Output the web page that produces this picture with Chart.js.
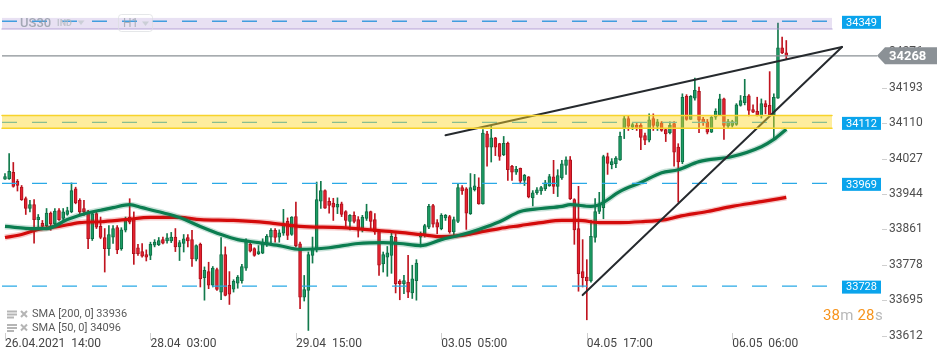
<!DOCTYPE html>
<html>
<head>
<meta charset="utf-8">
<script src="https://cdn.jsdelivr.net/npm/chart.js@4.4.1/dist/chart.umd.min.js"></script>
<style>
  html, body { margin: 0; padding: 0; background: #fff; }
</style>
</head>
<body>
<canvas id="chart" width="950" height="361"></canvas>
<script>
// hourly candles, US30 H1
const opens = [33979,33980,33995,33974,33960,33933,33910,33919,33884,33875,33870,33899,33874,33905,33887,33896,33902,33956,33929,33910,
  33902,33839,33898,33868,33842,33816,33843,33865,33816,33859,33890,33887,33818,33809,33802,33800,33824,33825,33837,33834,
  33834,33843,33820,33828,33842,33837,33791,33826,33748,33762,33730,33767,33714,33802,33730,33721,33735,33741,33770,33826,
  33816,33804,33805,33829,33843,33859,33843,33852,33880,33849,33891,33827,33702,33718,33800,33813,33927,33952,33927,33923,
  33913,33921,33903,33880,33894,33884,33860,33887,33903,33884,33857,33780,33796,33800,33843,33739,33734,33737,33712,33741,
  33843,33847,33866,33917,33877,33863,33888,33891,33855,33880,33959,33956,33898,33954,33960,33921,34085,34054,34076,34062,
  34036,34063,34009,33995,34004,33976,33984,33935,33947,33951,33956,33963,33984,33962,33982,34011,34024,33931,33863,33762,
  33749,33740,33842,33903,33912,34032,34013,34015,34024,34097,34121,34101,34105,34105,34081,34070,34121,34103,34111,34095,
  34088,34109,34054,34019,34173,34119,34169,34185,34120,34113,34089,34124,34130,34167,34103,34105,34107,34152,34158,34174,
  34142,34138,34127,34156,34152,34130,34169,34287,34275];
const highs = [33992,34039,34018,33978,33964,33937,33929,33931,33896,33882,33910,33902,33910,33910,33910,33913,33970,33960,33933,33929,
  33906,33902,33902,33890,33863,33870,33870,33870,33865,33890,33933,33902,33826,33828,33813,33831,33837,33842,33843,33851,
  33854,33863,33835,33849,33849,33859,33825,33829,33773,33784,33774,33770,33842,33820,33762,33743,33753,33779,33839,33831,
  33818,33823,33839,33849,33863,33863,33860,33908,33888,33891,33925,33831,33753,33808,33843,33972,33974,33954,33935,33934,
  33935,33925,33905,33896,33902,33891,33894,33920,33904,33898,33860,33808,33821,33855,33851,33743,33753,33800,33777,33790,
  33855,33873,33920,33920,33884,33898,33896,33894,33890,33968,33964,33959,33992,33990,33982,34095,34091,34105,34077,34063,
  34079,34066,34011,34009,34005,33990,33985,33952,33959,33962,33976,33990,34023,34001,34023,34031,34032,33933,33962,33837,
  33790,33882,33933,33948,34035,34040,34027,34032,34089,34128,34128,34110,34110,34109,34087,34132,34132,34119,34114,34097,
  34113,34114,34062,34179,34177,34175,34216,34195,34124,34119,34126,34144,34178,34169,34119,34117,34156,34175,34213,34177,
  34153,34171,34167,34163,34231,34179,34345,34312,34304];
const lows = [33978,33978,33960,33951,33929,33896,33902,33829,33866,33863,33865,33859,33870,33882,33882,33894,33900,33921,33896,33894,
  33816,33835,33863,33839,33761,33800,33828,33804,33812,33855,33874,33779,33800,33796,33787,33790,33820,33823,33827,33829,
  33830,33809,33788,33808,33820,33774,33787,33726,33695,33722,33726,33718,33696,33705,33685,33714,33723,33735,33765,33808,
  33798,33802,33804,33821,33826,33831,33831,33847,33837,33847,33820,33675,33693,33624,33782,33808,33910,33910,33899,33882,
  33898,33891,33868,33860,33876,33843,33855,33882,33863,33849,33753,33761,33751,33758,33712,33696,33710,33701,33699,33695,
  33820,33843,33863,33866,33851,33860,33882,33852,33847,33877,33943,33861,33896,33951,33920,33920,34009,34019,34034,34023,
  34034,33976,33976,33990,33968,33964,33935,33916,33943,33943,33952,33962,33945,33938,33978,33990,33931,33826,33716,33726,
  33649,33737,33831,33898,33886,33990,34003,34006,34023,34074,34093,34095,34093,34048,34060,34066,34093,34093,34091,34067,
  34085,34009,33925,34015,34117,34119,34164,34088,34105,34085,34088,34119,34128,34072,34098,34101,34105,34150,34153,34127,
  34135,34127,34122,34132,34127,34074,34168,34273,34261];
const closes = [33985,33997,33962,33964,33931,33910,33919,33884,33890,33868,33899,33874,33904,33884,33902,33905,33952,33923,33902,33902,
  33839,33898,33866,33842,33816,33849,33863,33813,33860,33886,33878,33804,33804,33798,33796,33826,33831,33835,33829,33841,
  33843,33820,33830,33839,33834,33792,33823,33745,33765,33730,33770,33720,33802,33706,33709,33739,33749,33774,33835,33810,
  33800,33809,33831,33845,33859,33842,33853,33876,33847,33890,33823,33702,33720,33802,33816,33931,33952,33911,33917,33913,
  33920,33896,33882,33894,33880,33859,33890,33903,33880,33855,33777,33802,33806,33845,33734,33734,33741,33714,33745,33782,
  33851,33870,33915,33873,33866,33894,33894,33855,33884,33959,33951,33899,33959,33963,33921,34087,34054,34076,34054,34032,
  34063,34001,33995,34002,33974,33988,33937,33947,33954,33959,33970,33985,33962,33987,34015,34024,33933,33860,33757,33748,
  33740,33845,33903,33920,34032,34016,34020,34028,34079,34121,34103,34107,34100,34077,34070,34118,34105,34113,34093,34085,
  34105,34042,34019,34171,34119,34173,34187,34117,34111,34089,34124,34138,34167,34105,34114,34114,34153,34163,34173,34140,
  34136,34130,34156,34148,34130,34171,34287,34275,34268];

// moving averages (candle index, value)
const sma50Idx = [0,7,10,15,20,23,26,30,33,38,42,47,52,56,61,66,71,78,85,91,95,100,105,110,114,119,124,129,134,136,141,143,148,153,158,162,167,175,182,185,188];
const sma50Val = [33868,33863,33863,33884,33900,33906,33912,33919,33912,33900,33889,33868,33849,33837,33830,33823,33814,33818,33828,33830,33828,33823,33837,33849,33861,33879,33903,33910,33915,33919,33915,33919,33950,33971,33994,34001,34020,34032,34055,34072,34096];
const sma200Idx = [0,4,8,13,18,23,29,35,42,47,55,63,71,81,90,95,100,105,110,114,119,124,129,134,138,143,148,153,159,162,169,175,182,188];
const sma200Val = [33842,33849,33861,33868,33877,33879,33884,33889,33889,33884,33882,33877,33868,33865,33858,33854,33849,33844,33847,33854,33863,33870,33877,33882,33882,33877,33877,33879,33884,33891,33903,33915,33926,33936];

const tickIdx = [0, 35, 70, 105, 140, 175];
const tickText = ['26.04.2021  14:00', '28.04  03:00', '29.04  15:00', '03.05  05:00', '04.05  17:00', '06.05  06:00'];
const yTicks = [33612, 33695, 33778, 33861, 33944, 34027, 34110, 34193, 34276];

const levels = [34349, 34112, 33969, 33728];
const lastPrice = 34268;
const purpleBand = [34331, 34357];
const yellowBand = [34098, 34128];
const trendUpper = [[106, 34082], [201.4, 34289]];
const trendLower = [[139, 33707], [201.4, 34289]];
const smaLegend = ['SMA [200, 0] 33936', 'SMA [50, 0] 34096'];

const idx = opens.map((_, i) => i);
const up = idx.map(i => closes[i] >= opens[i]);
const pts = (xs, ys) => xs.map((v, k) => ({ x: v, y: ys[k] }));

function drawTag(ctx, x, y, w, h, fill, text, font) {
    ctx.fillStyle = fill;
    ctx.fillRect(x, y - h / 2, w, h);
    ctx.fillStyle = '#fff';
    ctx.font = font;
    ctx.textAlign = 'center';
    ctx.textBaseline = 'middle';
    ctx.fillText(text, x + w / 2, y + 0.5);
}

const overlay = {
    id: 'overlay',
    afterDatasetsDraw(chart) {
        const { ctx, chartArea: a, scales: { x, y } } = chart;
        ctx.save();

        // dashed levels
        ctx.lineWidth = 1.4;
        ctx.strokeStyle = '#2aa9e6';
        ctx.setLineDash([15, 15]);
        levels.forEach(v => {
            const py = y.getPixelForValue(v);
            ctx.beginPath();
            ctx.moveTo(a.left, py);
            ctx.lineTo(a.right - 2, py);
            ctx.stroke();
        });
        ctx.setLineDash([]);

        // last price line
        const pp = y.getPixelForValue(lastPrice);
        ctx.strokeStyle = '#8a9095';
        ctx.lineWidth = 1.3;
        ctx.beginPath();
        ctx.moveTo(a.left, pp);
        ctx.lineTo(877, pp);
        ctx.stroke();

        // wedge trendlines
        ctx.strokeStyle = '#262a2e';
        ctx.lineWidth = 2;
        ctx.lineCap = 'round';
        [trendUpper, trendLower].forEach(t => {
            ctx.beginPath();
            t.forEach(([i, v], k) => {
                const px = x.getPixelForValue(i), py = y.getPixelForValue(v);
                if (k) ctx.lineTo(px, py); else ctx.moveTo(px, py);
            });
            ctx.stroke();
        });

        // zones drawn on top
        const band = (b, fill, edge, top) => {
            const t = y.getPixelForValue(b[1]), bt = y.getPixelForValue(b[0]);
            ctx.fillStyle = fill;
            ctx.fillRect(a.left, t, a.right - a.left, bt - t);
            ctx.strokeStyle = edge;
            ctx.lineWidth = 1.5;
            ctx.beginPath();
            if (top) { ctx.moveTo(a.left, t); ctx.lineTo(a.right, t); }
            ctx.moveTo(a.left, bt);
            ctx.lineTo(a.right, bt);
            ctx.stroke();
        };
        band(purpleBand, 'rgba(150,120,200,0.22)', 'rgba(170,150,210,0.55)', false);
        band(yellowBand, 'rgba(252,214,40,0.45)', '#f7d32b', true);
        ctx.restore();
    },
    afterDraw(chart) {
        const { ctx, chartArea: a, scales: { x, y } } = chart;
        ctx.save();

        // axis tick marks
        ctx.strokeStyle = '#cfcfcf';
        ctx.lineWidth = 1;
        yTicks.forEach(v => {
            const py = Math.round(y.getPixelForValue(v)) + 0.5;
            ctx.beginPath(); ctx.moveTo(882, py); ctx.lineTo(887, py); ctx.stroke();
        });
        tickIdx.forEach(i => {
            const px = Math.round(x.getPixelForValue(i)) + 0.5;
            ctx.beginPath(); ctx.moveTo(px, 333); ctx.lineTo(px, 340); ctx.stroke();
        });

        // level tags
        levels.forEach(v => {
            drawTag(ctx, 842, y.getPixelForValue(v) + 1, 39, 13, '#0aa4ec', String(v), '11px Roboto');
        });

        // last price tag
        const pp = y.getPixelForValue(lastPrice);
        ctx.fillStyle = '#8b9196';
        ctx.beginPath();
        ctx.moveTo(877, pp);
        ctx.lineTo(885, pp - 8.5);
        ctx.lineTo(937, pp - 8.5);
        ctx.lineTo(937, pp + 8.5);
        ctx.lineTo(885, pp + 8.5);
        ctx.closePath();
        ctx.fill();
        ctx.fillStyle = '#fff';
        ctx.font = 'bold 13px Roboto';
        ctx.textAlign = 'left';
        ctx.textBaseline = 'middle';
        ctx.fillText(String(lastPrice), 889, pp + 1);

        // symbol header
        ctx.globalAlpha = 0.75;
        ctx.fillStyle = '#8c96a0';
        ctx.font = '500 13px Roboto';
        ctx.textBaseline = 'middle';
        ctx.fillText('US30', 20, 23.5);
        ctx.fillStyle = '#b3b9bf';
        ctx.font = 'bold 9px Roboto';
        ctx.fillText('IND', 57, 24);
        const tri = (cx, cy) => {
            ctx.beginPath(); ctx.moveTo(cx - 3.5, cy - 2); ctx.lineTo(cx + 3.5, cy - 2); ctx.lineTo(cx, cy + 2.5); ctx.closePath(); ctx.fill();
        };
        ctx.fillStyle = '#c2c8ce';
        tri(81, 22.5);
        ctx.strokeStyle = '#dcdfe2';
        ctx.beginPath();
        ctx.roundRect(118.5, 14.5, 34, 17, 3);
        ctx.stroke();
        ctx.fillStyle = '#9aa2aa';
        ctx.font = '12px Roboto';
        ctx.fillText('H1', 123, 23.5);
        ctx.fillStyle = '#c2c8ce';
        tri(145.5, 23.5);
        ctx.globalAlpha = 1;

        // indicator legend
        smaLegend.forEach((t, k) => {
            const ly = 314.5 + k * 13.5;
            ctx.fillStyle = '#b5b5b5';
            ctx.fillRect(7, ly - 4, 10, 2);
            ctx.fillRect(7, ly - 1, 10, 2);
            ctx.fillRect(7, ly + 2, 7, 2);
            ctx.strokeStyle = '#b5b5b5';
            ctx.lineWidth = 2;
            ctx.beginPath();
            ctx.moveTo(21, ly - 3.5); ctx.lineTo(27, ly + 2.5);
            ctx.moveTo(27, ly - 3.5); ctx.lineTo(21, ly + 2.5);
            ctx.stroke();
            ctx.fillStyle = '#5a5a5a';
            ctx.font = '11px Roboto';
            ctx.fillText(t, 32, ly);
        });

        // candle timer
        ctx.font = '15px Roboto';
        let tx = 823;
        [['38', '#f7941d'], ['m', '#b8b8b8'], ['28', '#f7941d'], ['s', '#b8b8b8']].forEach(([s, c], k) => {
            ctx.fillStyle = c;
            ctx.fillText(s, tx, 316.5);
            tx += ctx.measureText(s).width + (k === 1 ? 4 : 0.5);
        });
        ctx.restore();
    }
};

new Chart(document.getElementById('chart'), {
    type: 'bar',
    data: {
        datasets: [
            { type: 'line', data: pts(sma50Idx, sma50Val), borderColor: '#0b7d50', borderWidth: 3.2, pointRadius: 0, cubicInterpolationMode: 'monotone', order: 0 },
            { type: 'line', data: pts(sma50Idx, sma50Val), borderColor: 'rgba(11,125,80,0.22)', borderWidth: 6, pointRadius: 0, cubicInterpolationMode: 'monotone', order: 1 },
            { type: 'line', data: pts(sma200Idx, sma200Val), borderColor: '#d40b0b', borderWidth: 3.2, pointRadius: 0, cubicInterpolationMode: 'monotone', order: 2 },
            { type: 'line', data: pts(sma200Idx, sma200Val), borderColor: 'rgba(212,11,11,0.22)', borderWidth: 6, pointRadius: 0, cubicInterpolationMode: 'monotone', order: 3 },
            {
                data: idx.map(i => ({ x: i, y: [opens[i], closes[i]] })),
                backgroundColor: idx.map(i => up[i] ? '#1c9c64' : '#e5222f'),
                borderColor: idx.map(i => up[i] ? '#0e6d44' : '#ad111d'),
                borderWidth: 1, borderSkipped: false, barThickness: 3, minBarLength: 1, grouped: false, order: 4
            },
            {
                data: idx.map(i => ({ x: i, y: [lows[i], highs[i]] })),
                backgroundColor: idx.map(i => up[i] ? '#127a4c' : '#c0141f'),
                barThickness: 1, grouped: false, order: 5
            }
        ]
    },
    options: {
        responsive: false,
        animation: false,
        devicePixelRatio: 1,
        layout: { padding: { left: 2, top: 0, right: 0, bottom: 0 } },
        plugins: { legend: { display: false }, tooltip: { enabled: false } },
        scales: {
            x: {
                type: 'linear', min: -0.72, max: 199, offset: false,
                grid: { display: false, drawTicks: false, offset: false },
                border: { display: false },
                afterBuildTicks: s => { s.ticks = tickIdx.map(v => ({ value: v })); },
                afterFit: s => { s.height = 25; s.paddingLeft = 0; s.paddingRight = 0; },
                ticks: {
                    autoSkip: false, maxRotation: 0, align: 'start', padding: 1,
                    color: '#454545', font: { family: 'Roboto', size: 12 },
                    callback: v => tickText[tickIdx.indexOf(v)]
                }
            },
            y: {
                position: 'right', min: 33611, max: 34399,
                grid: { display: false, drawTicks: false },
                border: { display: false },
                afterBuildTicks: s => { s.ticks = yTicks.map(v => ({ value: v })); },
                afterFit: s => { s.width = 118; s.paddingTop = 0; s.paddingBottom = 0; },
                ticks: {
                    padding: 57, color: '#4d4d4d', font: { family: 'Roboto', size: 12 },
                    callback: v => String(v)
                }
            }
        }
    },
    plugins: [overlay]
});
</script>
</body>
</html>
